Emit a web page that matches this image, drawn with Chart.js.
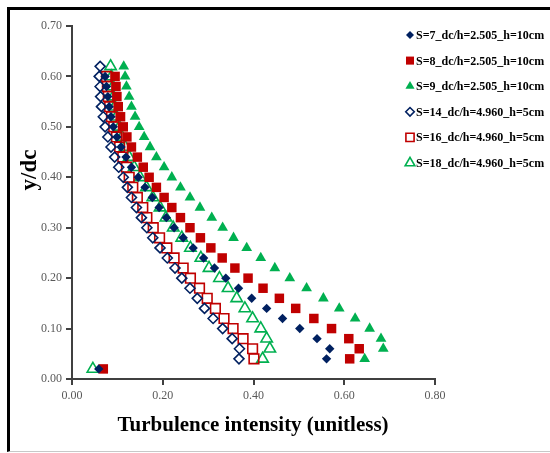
<!DOCTYPE html>
<html>
<head>
<meta charset="utf-8">
<script src="https://cdn.jsdelivr.net/npm/chart.js@4.4.0/dist/chart.umd.min.js"></script>
<style>
  html, body { margin: 0; padding: 0; background: #fff; overflow: hidden; }
  #frame { position: absolute; left: 7px; top: 7px; width: 560px; height: 441px;
           border-left: 3px solid #000; border-top: 3px solid #000; border-bottom: 1px solid #c8c8c8; }
  #wrap { position: absolute; left: 0; top: 0; width: 550px; height: 453px; }
</style>
</head>
<body>
<div id="frame"></div>
<div id="wrap"><canvas id="chart"></canvas></div>
<script>
// y/dc levels
const yTop62 = [0.62,0.60,0.58,0.56,0.54,0.52,0.50,0.48,0.46,0.44,0.42,0.40,0.38,0.36,0.34,0.32,0.30,0.28,0.26,0.24,0.22,0.20,0.18,0.16,0.14,0.12,0.10,0.08,0.06,0.04];
const yTop60 = [0.60,0.58,0.56,0.54,0.52,0.50,0.48,0.46,0.44,0.42,0.40,0.38,0.36,0.34,0.32,0.30,0.28,0.26,0.24,0.22,0.20,0.18,0.16,0.14,0.12,0.10,0.08,0.06,0.04,0.02];
const yS16 = [0.60,0.58,0.56,0.54,0.52,0.50,0.48,0.46,0.44,0.42,0.40,0.38,0.36,0.34,0.32,0.30,0.28,0.26,0.24,0.22,0.20,0.18,0.16,0.14,0.12,0.10,0.08,0.06,0.04];
const yS18 = [0.62,0.60,0.58,0.56,0.54,0.52,0.50,0.48,0.46,0.44,0.42,0.40,0.38,0.36,0.34,0.32,0.30,0.28,0.26,0.24,0.22,0.20,0.18,0.16,0.14,0.12,0.10,0.08,0.06,0.04,0.02];

// turbulence intensity
const xS7  = [0.073,0.076,0.079,0.082,0.086,0.091,0.099,0.108,0.119,0.131,0.146,0.161,0.177,0.192,0.208,0.225,0.245,0.267,0.290,0.314,0.339,0.367,0.396,0.429,0.464,0.502,0.540,0.568,0.561,0.059];
const xS8  = [0.095,0.097,0.099,0.102,0.107,0.113,0.121,0.131,0.144,0.157,0.170,0.186,0.203,0.220,0.239,0.260,0.283,0.306,0.331,0.359,0.388,0.421,0.457,0.493,0.533,0.572,0.610,0.633,0.612,0.069];
const xS9  = [0.114,0.117,0.120,0.126,0.131,0.139,0.148,0.159,0.172,0.186,0.203,0.220,0.239,0.260,0.282,0.308,0.332,0.356,0.385,0.416,0.447,0.480,0.517,0.554,0.589,0.624,0.656,0.681,0.686,0.645];
const xS14 = [0.062,0.060,0.062,0.063,0.065,0.069,0.073,0.079,0.086,0.094,0.103,0.113,0.122,0.131,0.142,0.153,0.165,0.178,0.194,0.210,0.227,0.242,0.260,0.276,0.292,0.311,0.332,0.353,0.369,0.368];
const xS16 = [0.076,0.078,0.080,0.083,0.087,0.092,0.098,0.105,0.112,0.120,0.126,0.134,0.144,0.156,0.165,0.179,0.193,0.209,0.225,0.245,0.261,0.281,0.298,0.316,0.335,0.355,0.377,0.398,0.401];
const xS18 = [0.085,0.087,0.090,0.091,0.094,0.098,0.104,0.110,0.117,0.126,0.137,0.150,0.164,0.178,0.194,0.207,0.223,0.242,0.261,0.284,0.302,0.325,0.344,0.363,0.381,0.398,0.416,0.429,0.436,0.420,0.046];

const seriesNames = ["S=7_dc/h=2.505_h=10cm", "S=8_dc/h=2.505_h=10cm", "S=9_dc/h=2.505_h=10cm",
                     "S=14_dc/h=4.960_h=5cm", "S=16_dc/h=4.960_h=5cm", "S=18_dc/h=4.960_h=5cm"];
const xTicks = [0, 0.2, 0.4, 0.6, 0.8];
const yTicks = [0, 0.1, 0.2, 0.3, 0.4, 0.5, 0.6, 0.7];

const navy = "#002060", red = "#c00000", green = "#00b050";
const serif = '"Liberation Serif", "Times New Roman", serif';

function pts(xs, ys) {
  return xs.map((x, i) => ({ x: x, y: ys[i] }));
}

function makeSet(name, xs, ys, color, style, radius, hollow) {
  return {
    label: name,
    data: pts(xs, ys),
    showLine: false,
    pointStyle: style,
    pointRadius: radius,
    pointHoverRadius: radius,
    pointBackgroundColor: hollow ? "rgba(0,0,0,0)" : color,
    pointBorderColor: color,
    pointBorderWidth: hollow ? 1.6 : 0
  };
}

const datasets = [
  makeSet(seriesNames[0], xS7, yTop60, navy, "rectRot", 4.7, false),
  makeSet(seriesNames[1], xS8, yTop60, red, "rect", 6.7, false),
  makeSet(seriesNames[2], xS9, yTop62, green, "triangle", 6.2, false),
  makeSet(seriesNames[3], xS14, yTop62, navy, "rectRot", 5, true),
  makeSet(seriesNames[4], xS16, yS16, red, "rect", 6.8, true),
  makeSet(seriesNames[5], xS18, yS18, green, "triangle", 6.6, true)
];

// axis titles and legend drawn onto the canvas
const extras = {
  id: "extras",
  afterDraw(chart) {
    const ctx = chart.ctx;
    ctx.save();
    ctx.fillStyle = "#000";
    ctx.textAlign = "center";
    ctx.textBaseline = "middle";
    ctx.font = "bold 21px " + serif;
    ctx.fillText("Turbulence intensity (unitless)", 253, 426);
    ctx.save();
    ctx.translate(30, 170);
    ctx.rotate(-Math.PI / 2);
    ctx.font = "bold 23px " + serif;
    ctx.fillText("y/dc", 0, 0);
    ctx.restore();

    ctx.font = "bold 12px " + serif;
    ctx.textAlign = "left";
    chart.data.datasets.forEach((ds, i) => {
      const y = 35 + i * 25.6;
      ctx.fillStyle = ds.pointBackgroundColor;
      ctx.strokeStyle = ds.pointBorderColor;
      ctx.lineWidth = ds.pointBorderWidth;
      Chart.helpers.drawPoint(ctx, {
        pointStyle: ds.pointStyle,
        radius: ds.pointRadius * 0.85,
        rotation: 0,
        borderWidth: ds.pointBorderWidth
      }, 410, y);
      ctx.fillStyle = "#000";
      ctx.fillText(ds.label, 416, y + 1);
    });
    ctx.restore();
  }
};

new Chart(document.getElementById("chart"), {
  type: "scatter",
  data: { datasets: datasets },
  options: {
    responsive: true,
    maintainAspectRatio: false,
    animation: false,
    layout: { padding: { left: 0, top: 26, right: 115, bottom: 0 } },
    plugins: { legend: { display: false }, tooltip: { enabled: false } },
    scales: {
      x: {
        type: "linear",
        min: 0, max: 0.8,
        afterBuildTicks: s => { s.ticks = xTicks.map(v => ({ value: v })); },
        afterFit: s => { s.height = 74; },
        ticks: { callback: v => v.toFixed(2), color: "#595959", font: { family: serif, size: 12 }, padding: 4 },
        grid: { drawOnChartArea: false, drawTicks: true, tickLength: 6, color: "#404040", lineWidth: 2 },
        border: { color: "#404040", width: 2 }
      },
      y: {
        type: "linear",
        min: 0, max: 0.7,
        afterBuildTicks: s => { s.ticks = yTicks.map(v => ({ value: v })); },
        afterFit: s => { s.width = 72; },
        ticks: { callback: v => v.toFixed(2), color: "#595959", font: { family: serif, size: 12 }, padding: 4 },
        grid: { drawOnChartArea: false, drawTicks: true, tickLength: 6, color: "#404040", lineWidth: 2 },
        border: { color: "#404040", width: 2 }
      }
    }
  },
  plugins: [extras]
});
</script>
</body>
</html>
